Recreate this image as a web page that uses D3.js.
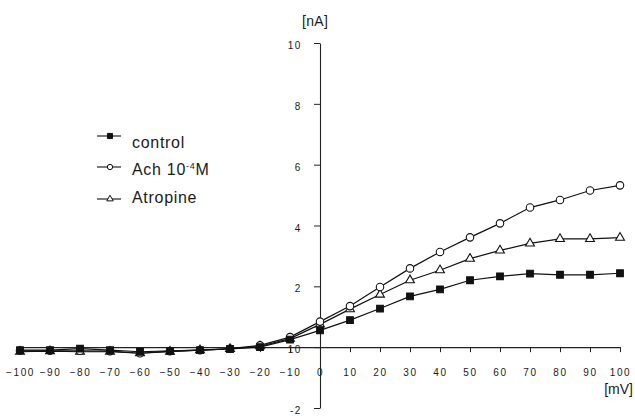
<!DOCTYPE html>
<html>
<head>
<meta charset="utf-8">
<script src="https://cdn.jsdelivr.net/npm/d3@7"></script>
<style>
  body { margin: 0; background: #fff; }
  text { font-family: "Liberation Sans", Arial, sans-serif; fill: #1a1a1a; }
</style>
</head>
<body>
<div id="chart"></div>
<script>
// membrane potential steps [mV]
const voltages = [-100, -90, -80, -70, -60, -50, -40, -30, -20, -10, 0, 10, 20, 30, 40, 50, 60, 70, 80, 90, 100];

// current [nA]
const control = [-0.1, -0.1, -0.05, -0.1, -0.15, -0.12, -0.1, -0.06, 0.0, 0.25, 0.55, 0.89, 1.27, 1.67, 1.9, 2.2, 2.33, 2.42, 2.38, 2.38, 2.43];
const ach = [-0.12, -0.12, -0.12, -0.13, -0.2, -0.13, -0.1, -0.05, 0.06, 0.33, 0.84, 1.35, 1.98, 2.59, 3.13, 3.61, 4.07, 4.59, 4.84, 5.15, 5.32];
const atropine = [-0.15, -0.13, -0.15, -0.15, -0.2, -0.15, -0.1, -0.06, 0.03, 0.28, 0.75, 1.25, 1.73, 2.2, 2.53, 2.91, 3.18, 3.41, 3.56, 3.56, 3.6];

const xTicks = [-100, -90, -80, -70, -60, -50, -40, -30, -20, -10, 0, 10, 20, 30, 40, 50, 60, 70, 80, 90, 100];
const yTicks = [-2, 0, 2, 4, 6, 8, 10];
const yTickLabels = ["-2", "10", "2", "4", "6", "8", "10"];

const width = 635, height = 416;
const svg = d3.select("#chart").append("svg")
  .attr("width", width)
  .attr("height", height);

const x = d3.scaleLinear().domain([-100, 100]).range([20, 620]);
const y = d3.scaleLinear().domain([-2, 10]).range([408, 43]);

//////////////////////// axes ////////////////////////
const xAxis = svg.append("g")
  .attr("transform", `translate(0,${y(0)})`)
  .call(d3.axisBottom(x).tickValues(xTicks).tickSize(5).tickSizeOuter(0).tickPadding(17).tickFormat(d3.format("d")));

const yAxis = svg.append("g")
  .attr("transform", `translate(${x(0)},0)`)
  .call(d3.axisLeft(y).tickValues(yTicks).tickSize(6).tickSizeOuter(0).tickPadding(12)
    .tickFormat((d, i) => yTickLabels[i]));

[xAxis, yAxis].forEach((g) => {
  g.select(".domain").attr("stroke", "#222").attr("stroke-width", 1.1);
  g.selectAll(".tick line").attr("stroke", "#222").attr("stroke-width", 1);
  g.selectAll(".tick text")
    .style("font-size", "10px")
    .style("letter-spacing", "1.6px")
    .attr("fill", "#1a1a1a");
});
yAxis.selectAll(".tick text").attr("dy", "0.55em");

svg.append("text").attr("x", 302).attr("y", 26)
  .style("font-size", "14px").style("letter-spacing", "0.3px").text("[nA]");
svg.append("text").attr("x", 633).attr("y", 394)
  .attr("text-anchor", "end")
  .style("font-size", "14px").text("[mV]");

//////////////////////// series ////////////////////////
const series = [
  { name: "Atropine", values: atropine, symbol: d3.symbolTriangle, size: 34, fill: "#fff" },
  { name: "Ach", values: ach, symbol: d3.symbolCircle, size: 44, fill: "#fff" },
  { name: "control", values: control, symbol: d3.symbolSquare, size: 45, fill: "#111" },
];

const line = d3.line()
  .x((d) => x(d[0]))
  .y((d) => y(d[1]));

series.forEach((s) => {
  const pts = voltages.map((v, i) => [v, s.values[i]]);
  svg.append("path")
    .datum(pts)
    .attr("d", line)
    .attr("fill", "none")
    .attr("stroke", "#111")
    .attr("stroke-width", 1.2);
  svg.selectAll(null)
    .data(pts)
    .enter()
    .append("path")
    .attr("d", d3.symbol().type(s.symbol).size(s.size))
    .attr("transform", (d) => `translate(${x(d[0])},${y(d[1])})`)
    .attr("fill", s.fill)
    .attr("stroke", "#111")
    .attr("stroke-width", 1.1);
});

//////////////////////// legend ////////////////////////
const legendRows = [
  { symbol: d3.symbolSquare, size: 26, fill: "#111", baseline: 148 },
  { symbol: d3.symbolCircle, size: 22, fill: "#fff", baseline: 175 },
  { symbol: d3.symbolTriangle, size: 18, fill: "#fff", baseline: 203 },
];

const legend = svg.append("g");
legendRows.forEach((r, i) => {
  const my = r.baseline - (i === 0 ? 12 : i === 1 ? 8 : 4);
  legend.append("line")
    .attr("x1", 97).attr("x2", 121).attr("y1", my).attr("y2", my)
    .attr("stroke", "#111").attr("stroke-width", 1.1);
  legend.append("path")
    .attr("d", d3.symbol().type(r.symbol).size(r.size))
    .attr("transform", `translate(110,${my})`)
    .attr("fill", r.fill).attr("stroke", "#111").attr("stroke-width", 1);
});

const legendText = legend.selectAll("text")
  .data(legendRows)
  .enter()
  .append("text")
  .attr("x", 132)
  .attr("y", (d) => d.baseline)
  .style("font-size", "16px")
  .style("letter-spacing", "0.7px");

legendText.filter((d, i) => i === 0).text("control");
const achText = legendText.filter((d, i) => i === 1);
achText.append("tspan").text("Ach 10");
achText.append("tspan").attr("dy", -6).style("font-size", "9px").text("-4");
achText.append("tspan").attr("dy", 6).text("M");
legendText.filter((d, i) => i === 2).text("Atropine");
</script>
</body>
</html>
